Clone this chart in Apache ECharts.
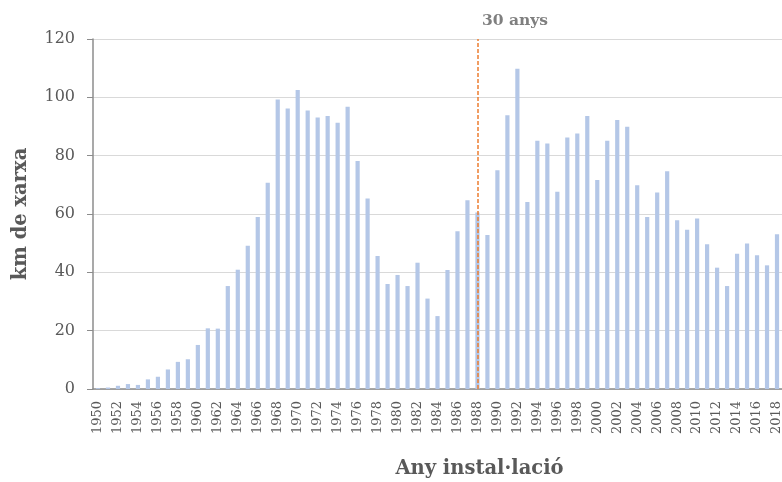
<!DOCTYPE html>
<html>
<head>
<meta charset="utf-8">
<script src="https://cdn.jsdelivr.net/npm/echarts@6/dist/echarts.min.js"></script>
<style>
  html, body { margin: 0; padding: 0; background: #fff; }
  #main { width: 782px; height: 482px; }
</style>
</head>
<body>
<div id="main"></div>
<script>
// years of installation
const years = [];
for (let y = 1950; y <= 2018; y++) years.push(String(y));

// km of network installed each year
const kmValues = [
  0.3, 0.5, 1.1, 1.7, 1.4, 3.3, 4.2, 6.7, 9.3, 10.2,
  15.1, 20.8, 20.7, 35.3, 40.9, 49.1, 59.0, 70.7, 99.3, 96.2,
  102.5, 95.5, 93.1, 93.6, 91.3, 96.8, 78.2, 65.3, 45.6, 36.0,
  39.1, 35.3, 43.3, 31.0, 25.0, 40.8, 54.1, 64.7, 60.5, 52.8,
  75.0, 93.9, 109.8, 64.1, 85.1, 84.2, 67.6, 86.2, 87.6, 93.6,
  71.7, 85.1, 92.2, 89.9, 69.9, 59.0, 67.4, 74.7, 57.9, 54.6,
  58.5, 49.6, 41.6, 35.3, 46.4, 49.9, 45.9, 42.4, 53.1
];

const yTicks = [0, 20, 40, 60, 80, 100, 120];
const markYear = '1988';
const markText = '30 anys';

const serif = '"DejaVu Serif", "Liberation Serif", serif';
const chart = echarts.init(document.getElementById('main'));

const option = {
  backgroundColor: '#fff',
  animation: false,
  title: {
    text: markText,
    left: 482,
    top: 13,
    padding: 0,
    textStyle: { fontFamily: serif, fontSize: 15.5, fontWeight: 'bold', color: '#7f7f7f' }
  },
  grid: { left: 93, right: 0, top: 39, bottom: 93, outerBoundsMode: 'none' },
  xAxis: {
    type: 'category',
    data: years,
    name: 'Any instal·lació',
    nameLocation: 'middle',
    nameGap: 70,
    nameTextStyle: {
      fontFamily: serif, fontSize: 19.5, fontWeight: 'bold', color: '#595959',
      padding: [0, 0, 0, 84]
    },
    axisLine: { lineStyle: { color: '#8c8c8c', width: 1.5 } },
    axisTick: { show: false },
    axisLabel: {
      interval: 1,
      rotate: 90,
      fontFamily: serif,
      fontSize: 13,
      color: '#595959',
      margin: 12
    }
  },
  yAxis: {
    type: 'value',
    min: yTicks[0],
    max: yTicks[yTicks.length - 1],
    interval: 20,
    name: 'km de xarxa',
    nameLocation: 'middle',
    nameGap: 62,
    nameTextStyle: { fontFamily: serif, fontSize: 19.5, fontWeight: 'bold', color: '#595959' },
    axisLine: { show: true, lineStyle: { color: '#8c8c8c', width: 1.5 } },
    axisTick: { show: true, length: 6, lineStyle: { color: '#8c8c8c' } },
    axisLabel: { fontFamily: serif, fontSize: 16, color: '#595959', margin: 18 },
    splitLine: { lineStyle: { color: '#d9d9d9', width: 1.2 } }
  },
  series: [
    {
      type: 'bar',
      data: kmValues,
      barWidth: '42%',
      itemStyle: { color: '#b4c7e7' },
      markLine: {
        symbol: 'none',
        silent: true,
        label: { show: false },
        lineStyle: { color: '#ed7d31', type: [4, 2], width: 1.5 },
        data: [[{ coord: [markYear, 0] }, { coord: [markYear, 120] }]]
      }
    }
  ]
};

chart.setOption(option);
</script>
</body>
</html>
